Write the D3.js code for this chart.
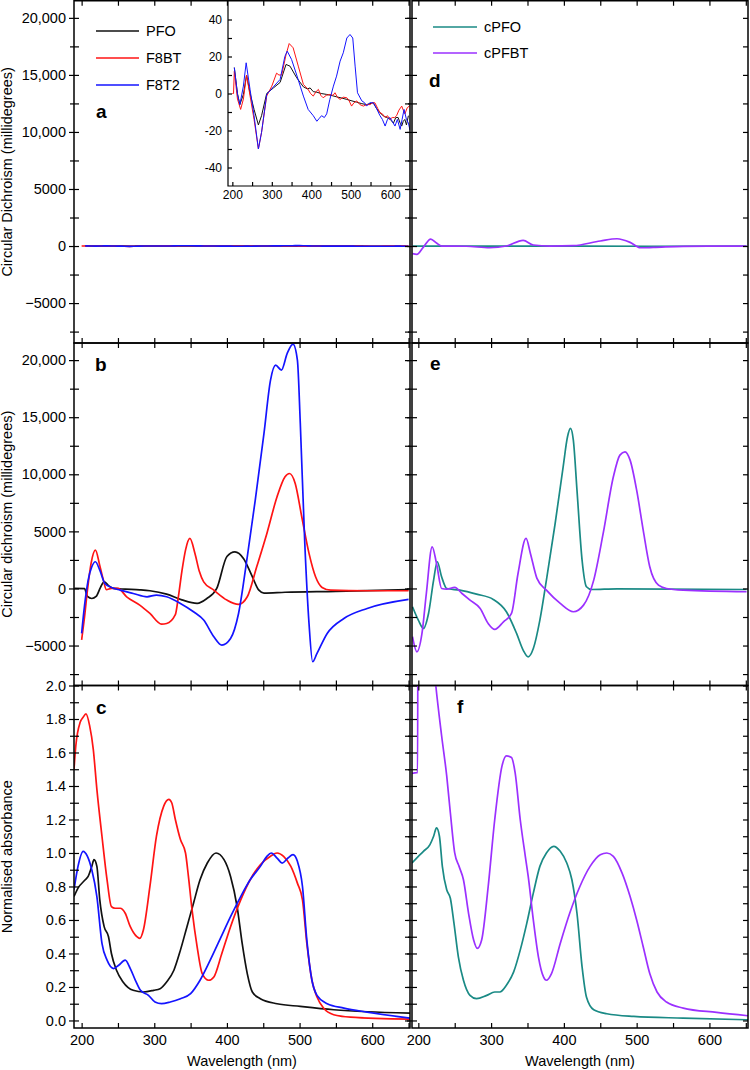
<!DOCTYPE html>
<html lang="en">
<head>
<meta charset="utf-8" />
<title>CD and absorbance spectra</title>
<style>
  body { margin:0; background:#fff; }
  svg  { display:block; font-family:"Liberation Sans",Arial,Helvetica,sans-serif; }
  .tick line { stroke:#000; stroke-width:1.2px; }
  .tick text { font-size:14.5px; fill:#000; }
  .inset .tick text { font-size:12px; }
  .title  { font-size:14.5px; fill:#000; }
  .plabel { font-size:19px; font-weight:bold; fill:#000; }
  .legend text { font-size:14.5px; fill:#000; }
</style>
</head>
<body>
<svg width="750" height="1070"></svg>
<script src="https://cdn.jsdelivr.net/npm/d3@7"></script>
<script>
/* ---------- DATA : [wavelength nm, value] ---------- */
// panel a / inset : CD of films (millidegrees)
const insPFO  = [[205,14],[213,0],[219,-6],[228,-0.5],[236,10],[245,0],[255,-8.6],[266,-17],[274,-12],[287,0],[304,3],[321,6],[336,15.7],[346,14.8],[363,8.5],[380,3.6],[390,2.5],[397,3],[405,1],[414,0.7],[425,0],[439,-0.5],[450,-1],[464,-1.8],[478,-2.5],[490,-3.2],[503,-4],[515,-4.7],[528,-5.5],[540,-6],[557,-5],[565,-8],[574,-10.4],[582,-12],[591,-13],[600,-14],[608,-16],[614,-13],[620,-13],[625,-16],[629,-17.6],[633,-15],[637,-14],[641,-17],[646,-12]];
const insF8BT = [[200,0],[203,0],[205,12],[213,-3],[221,-8.6],[228,-3],[236,10],[245,-1.4],[255,-14],[266,-30],[274,-21],[287,-1.4],[300,4],[312,11],[318,10],[325,10],[336,21],[344,27],[354,24.7],[367,14.8],[380,4.9],[392,2.2],[398,0],[405,-1.4],[412,1],[418,2.2],[424,-1],[430,-2.3],[438,-1],[447,-0.5],[455,-1],[460,0.4],[466,-2],[473,-3.2],[481,-2],[490,-2.3],[496,-4],[502,-6.8],[508,-5],[515,-4],[523,-6],[532,-6.8],[540,-6],[549,-6],[555,-5],[561,-5],[568,-8],[574,-10.4],[580,-11],[587,-13],[593,-12],[599,-14],[605,-13],[611,-13],[616,-12],[622,-9],[629,-6.8],[633,-9],[637,-11],[643,-7.7],[650,-6.5]];
const insF8T2 = [[205,14],[213,-0.5],[219,-6],[228,4],[235,16.6],[245,2],[255,-12],[266,-30],[274,-21],[287,-0.5],[304,3.6],[321,7.6],[333,20],[339,22.9],[350,18.4],[363,10],[380,-1.4],[392,-8.6],[405,-12],[414,-15],[420,-13.5],[426,-12],[433,-13],[439,-11],[447,-3.2],[456,4],[464,9.4],[473,17.5],[481,22],[490,30],[498,31.9],[505,30],[511,14.8],[517,0.4],[528,-4],[535,-5],[540,-6.8],[548,-5],[557,-5],[565,-8],[574,-12],[580,-14],[587,-17.6],[593,-14],[599,-13],[605,-15],[612,-17.6],[618,-14],[625,-19.4],[630,-14],[635,-8.6],[641,-14],[646,-16],[650,-19.8]];

// panel b : CD of nanoparticles (millidegrees)
const cdPFO  = [[190,0],[204,-20],[208,-700],[214,-880],[220,-700],[226,100],[231,580],[237,250],[244,0],[260,-60],[280,-120],[294,-200],[317,-500],[338,-1000],[359,-1300],[372,-900],[386,0],[400,2800],[411,3200],[423,2600],[434,1170],[444,-150],[451,-400],[480,-330],[550,-250],[650,-100]];
const cdF8BT = [[200,-4500],[204,-2500],[208,-150],[213,2200],[219,3360],[225,2000],[230,730],[234,-100],[241,0],[250,0],[262,-730],[280,-1460],[294,-2190],[310,-3120],[317,-3070],[329,-2300],[333,-800],[338,1500],[343,3360],[349,4380],[356,3070],[362,1500],[368,580],[382,-150],[400,-1020],[416,-1400],[428,-730],[441,1900],[455,4820],[469,8030],[480,9780],[486,10070],[494,9200],[503,6280],[513,3070],[522,1020],[531,90],[543,-150],[593,-200],[650,-200]];
const cdF8T2 = [[200,-3940],[204,-1500],[209,730],[214,1900],[219,2340],[225,1600],[232,440],[241,90],[253,-150],[271,-440],[290,-730],[303,-580],[317,-730],[336,-1310],[354,-2040],[368,-2770],[382,-4230],[393,-4960],[405,-4380],[416,-2190],[428,2770],[439,7740],[451,13580],[460,18250],[467,19560],[475,19130],[483,20590],[491,21400],[497,20000],[501,14450],[507,4230],[513,-3070],[518,-6420],[524,-5690],[538,-3940],[561,-2630],[593,-1750],[650,-960]];

// panel c : normalised absorbance
const absPFO  = [[189.5,0.74],[195,0.79],[205,0.84],[209,0.86],[214,0.92],[217,0.96],[221,0.92],[225,0.72],[231,0.56],[237,0.50],[241,0.40],[248,0.30],[257,0.23],[271,0.18],[285,0.17],[299,0.18],[308,0.19],[317,0.23],[327,0.30],[336,0.42],[345,0.56],[354,0.70],[363,0.84],[373,0.94],[385,1.00],[396,0.96],[405,0.86],[414,0.68],[421,0.46],[428,0.28],[435,0.17],[446,0.13],[469,0.10],[501,0.084],[547,0.064],[593,0.052],[652,0.044]];
const absF8BT = [[189.5,1.50],[192,1.64],[198,1.78],[202,1.81],[206,1.83],[211,1.76],[216,1.62],[221,1.38],[228,1.10],[235,0.84],[241,0.68],[246,0.67],[253,0.67],[260,0.64],[267,0.56],[276,0.50],[280,0.49],[285,0.54],[294,0.80],[303,1.10],[313,1.28],[320,1.32],[324,1.30],[329,1.20],[336,1.08],[343,1.00],[347,0.86],[352,0.66],[359,0.44],[366,0.28],[375,0.24],[382,0.26],[393,0.40],[405,0.56],[419,0.72],[432,0.84],[446,0.93],[460,0.98],[469,1.00],[478,0.98],[488,0.92],[497,0.82],[504,0.72],[510,0.46],[517,0.24],[524,0.14],[533,0.074],[547,0.034],[570,0.02],[652,0.008]];
const absF8T2 = [[189.5,0.78],[195,0.92],[202,1.01],[208,0.98],[214,0.90],[221,0.74],[228,0.46],[235,0.36],[244,0.31],[251,0.33],[260,0.36],[267,0.31],[274,0.24],[281,0.18],[292,0.15],[301,0.11],[310,0.10],[322,0.11],[336,0.13],[350,0.16],[363,0.24],[377,0.36],[391,0.49],[405,0.62],[419,0.74],[432,0.84],[446,0.92],[455,0.98],[461,1.00],[469,0.97],[476,0.94],[484,0.97],[491,0.99],[497,0.95],[504,0.80],[510,0.48],[517,0.24],[524,0.15],[538,0.10],[561,0.074],[593,0.05],[652,0.014]];

// panel d : CD of films, conjugated polymers (millidegrees)
const cdCPFO_d  = [[192,0],[300,0],[420,0],[520,-20],[651,0]];
const cdCPFBT_d = [[192,-670],[198,-730],[207,-90],[217,610],[225,260],[232,0],[266,-20],[298,-150],[321,0],[344,500],[358,90],[381,0],[413,30],[450,440],[473,640],[491,320],[505,-150],[523,-120],[564,-30],[651,0]];

// panel e : CD of nanoparticles (millidegrees)
const cdCPFO  = [[192,-1600],[200,-2770],[207,-3500],[214,-2190],[221,730],[226,2340],[232,1020],[239,0],[257,-150],[280,-500],[303,-960],[321,-2040],[335,-3940],[344,-5400],[351,-5990],[358,-5260],[367,-2770],[376,730],[388,5690],[399,10660],[405,13290],[409,14020],[413,13000],[418,8610],[425,2480],[431,150],[438,-90],[473,-30],[651,-90]];
const cdCPFBT = [[192,-4230],[198,-5550],[205,-3940],[211,-440],[219,3650],[225,2190],[232,0],[239,-50],[250,90],[260,-440],[271,-1020],[285,-1750],[296,-3070],[305,-3590],[317,-2920],[328,-2190],[337,1310],[348,4380],[354,3070],[363,880],[376,-150],[395,-1310],[413,-2040],[427,-1460],[441,730],[454,4820],[468,9780],[477,11680],[484,11970],[491,11240],[500,8610],[509,5110],[518,1900],[530,290],[541,0],[564,-150],[651,-290]];

// panel f : normalised absorbance
const absCPFO  = [[191.3,0.94],[200,0.98],[207,1.01],[216,1.05],[221,1.10],[225,1.15],[229,1.10],[233,0.92],[239,0.78],[244,0.73],[249,0.58],[255,0.38],[262,0.24],[271,0.15],[280,0.13],[294,0.15],[305,0.17],[312,0.17],[321,0.21],[331,0.29],[340,0.42],[349,0.58],[358,0.76],[367,0.92],[376,1.00],[386,1.04],[395,1.01],[404,0.94],[411,0.84],[418,0.64],[425,0.32],[431,0.14],[441,0.064],[459,0.04],[496,0.024],[564,0.014],[653,0.004]];
const absCPFBT = [[191.3,1.475],[198,1.48],[199,1.48],[199.5,2.6],[212,2.6],[224,2.0],[232,1.70],[239,1.46],[244,1.24],[250,1.00],[256,0.92],[262,0.84],[269,0.64],[276,0.48],[281,0.43],[287,0.48],[296,0.80],[305,1.20],[315,1.52],[321,1.58],[328,1.57],[333,1.48],[340,1.20],[347,0.98],[351,0.86],[358,0.60],[365,0.38],[372,0.26],[376,0.24],[383,0.28],[395,0.46],[408,0.64],[422,0.80],[436,0.92],[450,0.99],[459,1.00],[468,0.98],[480,0.88],[491,0.74],[500,0.60],[509,0.44],[518,0.28],[528,0.17],[541,0.11],[564,0.074],[610,0.048],[653,0.028]];

/* ---------- TICKS ---------- */
const xMajor   = [200,300,400,500,600];
const xMinor   = [250,350,450,550,650];
const cdMajor  = [-5000,0,5000,10000,15000,20000];
const cdMinor  = [-7500,-2500,2500,7500,12500,17500];
const absMajor = d3.range(0,2.01,0.2);
const absMinor = d3.range(0.1,2.0,0.2);
const insYMajor = [-40,-20,0,20,40];
const insYMinor = [-30,-10,10,30];

/* ---------- COLOURS ---------- */
const C = { PFO:"#111", F8BT:"#ff1414", F8T2:"#1414ff", cPFO:"#1a8a85", cPFBT:"#9b30ff" };

/* ---------- LAYOUT ---------- */
const svg  = d3.select("svg");
const defs = svg.append("defs");
const rows = [[0.75,343],[343,685.5],[685.5,1028]];
const xL = d3.scaleLinear().domain([189.5,652]).range([74,410]);
const xR = d3.scaleLinear().domain([191.3,653]).range([412,748]);
const cdY  = r => d3.scaleLinear().domain([-8500,21500]).range([rows[r][1],rows[r][0]]);
const absY = d3.scaleLinear().domain([-0.045,2.0]).range([rows[2][1],rows[2][0]]);

const cdFmt  = v => Math.abs(v) >= 10000 ? d3.format(",")(v) : d3.format("d")(v);
const absFmt = d3.format(".1f");

let clipN = 0;
function clip(x, y){
  const id = "clip" + (clipN++);
  const [x0,x1] = x.range(), [y1,y0] = y.range();
  defs.append("clipPath").attr("id",id)
    .append("rect").attr("x",x0).attr("y",y0).attr("width",x1-x0).attr("height",y1-y0);
  return `url(#${id})`;
}

function curves(x, y, series, width, curve){
  const cp = clip(x,y);
  const line = d3.line().x(d=>x(d[0])).y(d=>y(d[1])).curve(curve || d3.curveMonotoneX);
  const g = svg.append("g").attr("clip-path",cp);
  series.forEach(s => g.append("path").datum(s.data)
    .attr("fill","none").attr("stroke",s.color)
    .attr("stroke-width",width).attr("stroke-linejoin","round")
    .attr("d",line));
}

const noDomain = g => g.select(".domain").remove();

/* ---------- FRAME (box + ticks) ---------- */
function frame(x, y, yMajor, yMinor, fmt, opts){
  const [x0,x1] = x.range(), [yb,yt] = y.range();
  const g = svg.append("g");
  const yAll = yMajor.concat(yMinor), xAll = xMajor.concat(xMinor);

  // top & bottom : inside ticks
  g.append("g").attr("transform",`translate(0,${yt})`)
    .call(d3.axisBottom(x).tickValues(xAll).tickSize(5).tickFormat("")).call(noDomain);
  g.append("g").attr("transform",`translate(0,${yb})`)
    .call(d3.axisTop(x).tickValues(xAll).tickSize(5).tickFormat("")).call(noDomain);

  // left : crossing ticks (outside + inside)
  g.append("g").attr("transform",`translate(${x0},0)`)
    .call(d3.axisLeft(y).tickValues(yMajor).tickSize(5).tickPadding(3)
      .tickFormat(opts.yLabels ? fmt : "")).call(noDomain);
  g.append("g").attr("transform",`translate(${x0},0)`)
    .call(d3.axisLeft(y).tickValues(yMinor).tickSize(4).tickFormat("")).call(noDomain);
  g.append("g").attr("transform",`translate(${x0},0)`)
    .call(d3.axisRight(y).tickValues(yAll).tickSize(5).tickFormat("")).call(noDomain);

  // right : inside ticks
  g.append("g").attr("transform",`translate(${x1},0)`)
    .call(d3.axisLeft(y).tickValues(yAll).tickSize(5).tickFormat("")).call(noDomain);

  // x labels only on bottom row
  if (opts.xLabels){
    g.append("g").attr("transform",`translate(0,${yb})`)
      .call(d3.axisBottom(x).tickValues(xMajor).tickSize(0).tickPadding(7)).call(noDomain);
    g.append("text").attr("class","title").attr("text-anchor","middle")
      .attr("x",(x0+x1)/2).attr("y",1066).text("Wavelength (nm)");
  }
  if (opts.yTitle){
    g.append("text").attr("class","title").attr("text-anchor","middle")
      .attr("transform",`translate(12,${(yb+yt)/2}) rotate(-90)`).text(opts.yTitle);
  }
  g.append("rect").attr("x",x0).attr("y",yt).attr("width",x1-x0).attr("height",yb-yt)
    .attr("fill","none").attr("stroke","#000").attr("stroke-width",1.5);
  g.append("text").attr("class","plabel").attr("x",opts.lab[1]).attr("y",opts.lab[2]).text(opts.lab[0]);
}

function legend(items, x0, x1, ys){
  const g = svg.append("g").attr("class","legend");
  items.forEach((it,i) => {
    g.append("line").attr("x1",x0).attr("x2",x1).attr("y1",ys[i]).attr("y2",ys[i])
      .attr("stroke",it.color).attr("stroke-width",1.6);
    g.append("text").attr("x",x1+7).attr("y",ys[i]+5).text(it.name);
  });
}

/* ---------- PANEL a ---------- */
const yA = cdY(0);
const filmSet = [{name:"PFO",color:C.PFO,data:insPFO},{name:"F8BT",color:C.F8BT,data:insF8BT},{name:"F8T2",color:C.F8T2,data:insF8T2}];
curves(xL, yA, filmSet, 1.6);

// inset
const xI = d3.scaleLinear().domain([189,650]).range([228,410]);
const yI = d3.scaleLinear().domain([-50,50]).range([186,1]);
const ins = svg.append("g").attr("class","inset");
ins.append("rect").attr("x",228).attr("y",1).attr("width",182).attr("height",185).attr("fill","#fff");
curves(xI, yI, filmSet, 1, d3.curveLinear);
ins.append("g").attr("transform","translate(228,0)")
  .call(d3.axisRight(yI).tickValues(insYMajor.concat(insYMinor)).tickSize(4).tickFormat("")).call(noDomain);
ins.append("g").attr("transform","translate(228,0)")
  .call(d3.axisLeft(yI).tickValues(insYMajor).tickSize(0).tickPadding(6).tickFormat(d3.format("d")))
  .call(noDomain).call(g => g.selectAll("text").text(d => String(d)));
ins.append("g").attr("transform","translate(0,186)")
  .call(d3.axisTop(xI).tickValues(xMajor.concat([250,350,450,550])).tickSize(4).tickFormat("")).call(noDomain);
ins.append("g").attr("transform","translate(0,186)")
  .call(d3.axisBottom(xI).tickValues(xMajor).tickSize(0).tickPadding(4)).call(noDomain);
ins.append("path").attr("d","M228,1V186H410").attr("fill","none").attr("stroke","#000").attr("stroke-width",1.2);

frame(xL, yA, cdMajor, cdMinor, cdFmt, {yLabels:true, yTitle:"Circular Dichroism (millidegrees)", lab:["a",96,118]});
legend(filmSet, 96, 139, [31,58,85]);

/* ---------- PANEL b ---------- */
const yB = cdY(1);
curves(xL, yB, [{color:C.PFO,data:cdPFO},{color:C.F8BT,data:cdF8BT},{color:C.F8T2,data:cdF8T2}], 1.7);
frame(xL, yB, cdMajor, cdMinor, cdFmt, {yLabels:true, yTitle:"Circular dichroism (millidegrees)", lab:["b",95,371]});

/* ---------- PANEL c ---------- */
curves(xL, absY, [{color:C.PFO,data:absPFO},{color:C.F8BT,data:absF8BT},{color:C.F8T2,data:absF8T2}], 1.7);
frame(xL, absY, absMajor, absMinor, absFmt, {yLabels:true, xLabels:true, yTitle:"Normalised absorbance", lab:["c",96,714]});

/* ---------- PANEL d ---------- */
const yD = cdY(0);
curves(xR, yD, [{color:C.cPFO,data:cdCPFO_d},{color:C.cPFBT,data:cdCPFBT_d}], 1.7);
frame(xR, yD, cdMajor, cdMinor, cdFmt, {lab:["d",429,87]});
legend([{name:"cPFO",color:C.cPFO},{name:"cPFBT",color:C.cPFBT}], 433, 477, [27,53]);

/* ---------- PANEL e ---------- */
const yE = cdY(1);
curves(xR, yE, [{color:C.cPFO,data:cdCPFO},{color:C.cPFBT,data:cdCPFBT}], 1.7);
frame(xR, yE, cdMajor, cdMinor, cdFmt, {lab:["e",430,370]});

/* ---------- PANEL f ---------- */
const absYR = absY.copy();
curves(xR, absYR, [{color:C.cPFO,data:absCPFO},{color:C.cPFBT,data:absCPFBT}], 1.7);
frame(xR, absYR, absMajor, absMinor, absFmt, {xLabels:true, lab:["f",457,713]});
</script>
</body>
</html>
